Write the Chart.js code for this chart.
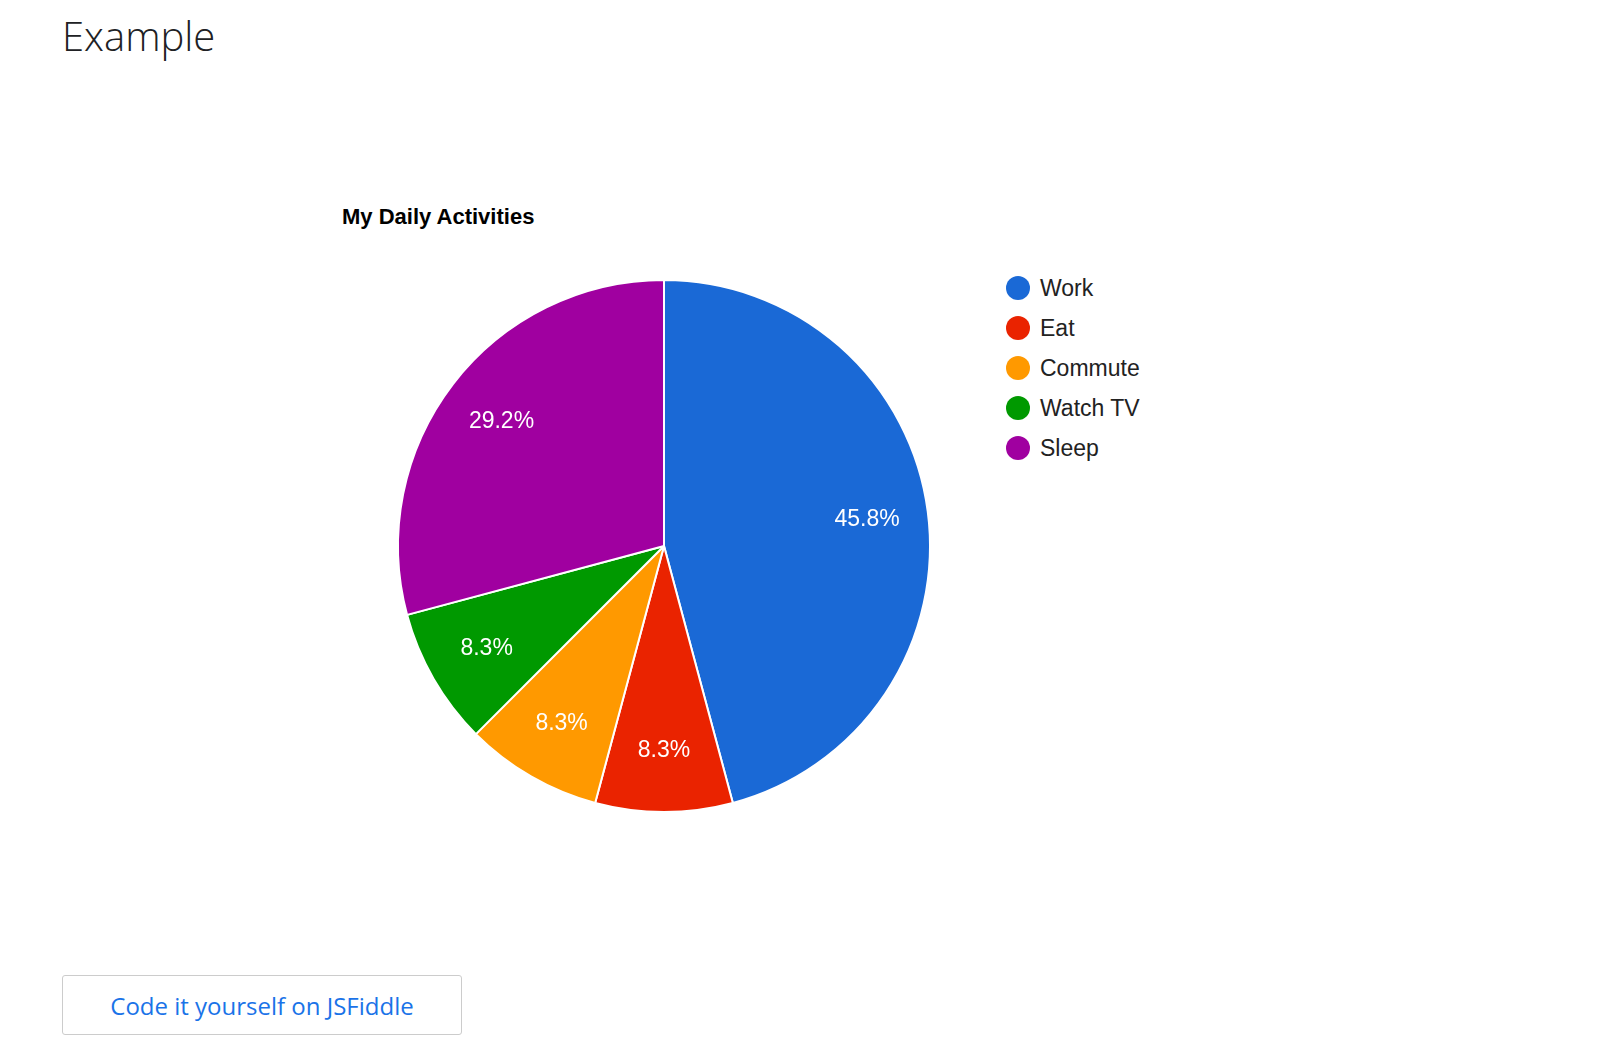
<!DOCTYPE html>
<html><head><meta charset="utf-8">
<script src="https://cdn.jsdelivr.net/npm/chart.js@4"></script>
<style>
body{margin:0;width:1600px;height:1040px;background:#fff;font-family:Roboto,Arial,sans-serif;position:relative;overflow:hidden}
#h{position:absolute;left:62px;top:8px;font-size:40px;font-weight:300;color:#202124;font-family:"Open Sans",Roboto,sans-serif}
#t{position:absolute;left:342px;top:204px;font-size:22px;font-weight:bold;font-family:"Liberation Sans",Arial,sans-serif;color:#000}
#wrap{position:absolute;left:384px;top:266px;width:560px;height:560px}
#leg{position:absolute;left:1006px;top:268px;font-family:"Liberation Sans",Arial,sans-serif;font-size:23px;color:#222}
#leg div{height:40px;display:flex;align-items:center}
#leg span{display:inline-block;width:24px;height:24px;border-radius:50%;margin-right:10px}
#btn{position:absolute;left:62px;top:975px;width:400px;height:60px;border:1px solid #ccc;border-radius:3px;box-sizing:border-box;display:flex;align-items:center;justify-content:center;color:#1a73e8;font-size:24px;font-family:"Open Sans",Roboto,sans-serif}
</style></head><body>
<div id="h">Example</div>
<div id="t">My Daily Activities</div>
<div id="wrap"><canvas id="c"></canvas></div>
<div id="leg"></div>
<div id="btn">Code it yourself on JSFiddle</div>
<script>
const categories=["Work","Eat","Commute","Watch TV","Sleep"];
const hours=[11,2,2,2,7];
const colors=["#1a69d6","#ea2300","#ff9900","#009900","#a000a0"];
const leg=document.getElementById('leg');
categories.forEach((c,i)=>{const d=document.createElement('div');d.innerHTML='<span style="background:'+colors[i]+'"></span>'+c;leg.appendChild(d);});
const total=hours.reduce((a,b)=>a+b,0);
const labelPlugin={id:'pl',afterDatasetsDraw(chart){const ctx=chart.ctx;const meta=chart.getDatasetMeta(0);ctx.save();ctx.font='23px "Liberation Sans", Arial, sans-serif';ctx.fillStyle='#fff';ctx.textAlign='center';ctx.textBaseline='middle';
meta.data.forEach((a,i)=>{const ang=(a.startAngle+a.endAngle)/2;const r=a.outerRadius*0.77;ctx.fillText((hours[i]/total*100).toFixed(1)+'%',a.x+Math.cos(ang)*r,a.y+Math.sin(ang)*r);});ctx.restore();}};
new Chart(document.getElementById('c'),{type:'pie',data:{labels:categories,datasets:[{data:hours,backgroundColor:colors,borderColor:'#fff',borderWidth:2}]},
options:{responsive:true,maintainAspectRatio:false,animation:false,layout:{padding:13},plugins:{legend:{display:false},tooltip:{enabled:false}}},plugins:[labelPlugin]});
</script></body></html>
